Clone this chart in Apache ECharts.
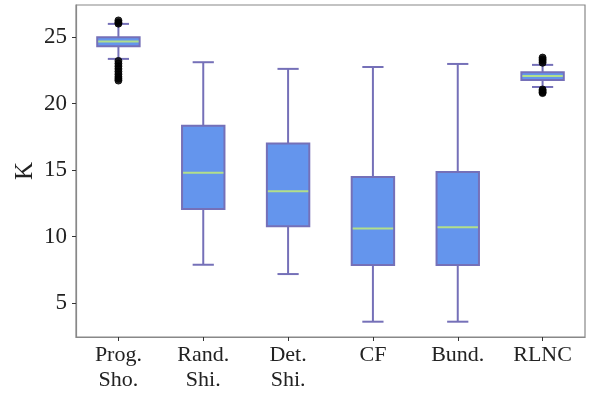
<!DOCTYPE html>
<html><head><meta charset="utf-8">
<script src="https://cdn.jsdelivr.net/npm/echarts@6/dist/echarts.min.js"></script>
<style>html,body{margin:0;padding:0;background:#fff}#c{width:591px;height:397px}</style>
</head><body><div id="c"></div>
<script>
const categories = ['Prog.\nSho.', 'Rand.\nShi.', 'Det.\nShi.', 'CF', 'Bund.', 'RLNC'];
const whiskerLow  = [23.35, 7.88, 7.18, 3.6, 3.6, 21.24];
const q1          = [24.3, 12.07, 10.77, 7.86, 7.86, 21.77];
const median      = [24.65, 14.8, 13.4, 10.6, 10.7, 22.07];
const q3          = [24.98, 18.33, 17.0, 14.47, 14.85, 22.34];
const whiskerHigh = [25.98, 23.1, 22.6, 22.74, 22.97, 22.9];
const outlierCat  = [0, 0, 0, 0, 0, 0, 0, 0, 0, 0, 0, 0, 5, 5, 5, 5, 5, 5, 5, 5];
const outlierVal  = [26.0, 26.1, 26.24, 23.2, 23.0, 22.8, 22.6, 22.4, 22.2, 22.0, 21.85, 21.72,
                     23.06, 23.2, 23.33, 23.45, 21.05, 20.95, 20.85, 20.78];
const yTicks = [5, 10, 15, 20, 25];
const yTitle = 'K';

const EDGE = '#7570B8', FILL = '#6495ED', MED = '#b2df8a';
const FONT = 'Liberation Serif';

const boxData = categories.map((c, i) => [i, whiskerLow[i], q1[i], median[i], q3[i], whiskerHigh[i]]);
const outData = outlierCat.map((c, i) => [c, outlierVal[i]]);

function renderBox(params, api) {
  const i = api.value(0);
  const band = api.size([1, 0])[0];
  const bw = band * 0.5, cw = bw * 0.5;
  const pLo = api.coord([i, api.value(1)]);
  const pQ1 = api.coord([i, api.value(2)]);
  const pMd = api.coord([i, api.value(3)]);
  const pQ3 = api.coord([i, api.value(4)]);
  const pHi = api.coord([i, api.value(5)]);
  const x = pLo[0];
  const ls = { stroke: EDGE, lineWidth: 2 };
  return {
    type: 'group',
    children: [
      { type: 'line', shape: { x1: x, y1: pLo[1], x2: x, y2: pQ1[1] }, style: ls },
      { type: 'line', shape: { x1: x, y1: pQ3[1], x2: x, y2: pHi[1] }, style: ls },
      { type: 'line', shape: { x1: x - cw / 2, y1: pLo[1], x2: x + cw / 2, y2: pLo[1] }, style: ls },
      { type: 'line', shape: { x1: x - cw / 2, y1: pHi[1], x2: x + cw / 2, y2: pHi[1] }, style: ls },
      { type: 'rect', shape: { x: x - bw / 2, y: pQ3[1], width: bw, height: pQ1[1] - pQ3[1] },
        style: { fill: FILL, stroke: EDGE, lineWidth: 2 } },
      { type: 'line', shape: { x1: x - bw / 2 + 1, y1: pMd[1], x2: x + bw / 2 - 1, y2: pMd[1] },
        style: { stroke: MED, lineWidth: 2 } }
    ]
  };
}

const chart = echarts.init(document.getElementById('c'), null, { renderer: 'canvas' });
chart.setOption({
  animation: false,
  backgroundColor: '#fff',
  grid: { left: 76, right: 6, top: 5, bottom: 60, show: true, borderColor: '#888', borderWidth: 1.2,
          backgroundColor: 'transparent', containLabel: false, outerBoundsMode: 'none' },
  graphic: [{
    type: 'text', x: 25, y: 171, rotation: Math.PI / 2,
    style: { text: yTitle, fill: '#222', font: '25px "Liberation Serif"', textAlign: 'center', textVerticalAlign: 'middle' }
  }],
  xAxis: {
    type: 'category', data: categories, boundaryGap: true,
    axisLine: { show: true, lineStyle: { color: '#888', width: 1.2 } },
    axisTick: { show: true, alignWithLabel: true, length: 4, lineStyle: { color: '#333' } },
    axisLabel: { color: '#222', fontFamily: FONT, fontSize: 22, lineHeight: 25, margin: 6 },
    splitLine: { show: false }
  },
  yAxis: {
    type: 'value', min: 2.45, max: 27.4,
    axisLine: { show: true, lineStyle: { color: '#888', width: 1.2 } },
    axisTick: { show: true, length: 4, lineStyle: { color: '#333' }, customValues: yTicks },
    axisLabel: { color: '#222', fontFamily: FONT, fontSize: 23, margin: 9, customValues: yTicks },
    splitLine: { show: false }
  },
  series: [
    { type: 'custom', renderItem: renderBox, data: boxData, encode: { x: 0, y: [1, 2, 3, 4, 5] }, z: 2 },
    { type: 'scatter', data: outData, symbol: 'circle', symbolSize: 7,
      itemStyle: { color: '#000', borderColor: '#000' }, z: 3 }
  ]
});
</script>
</body></html>
